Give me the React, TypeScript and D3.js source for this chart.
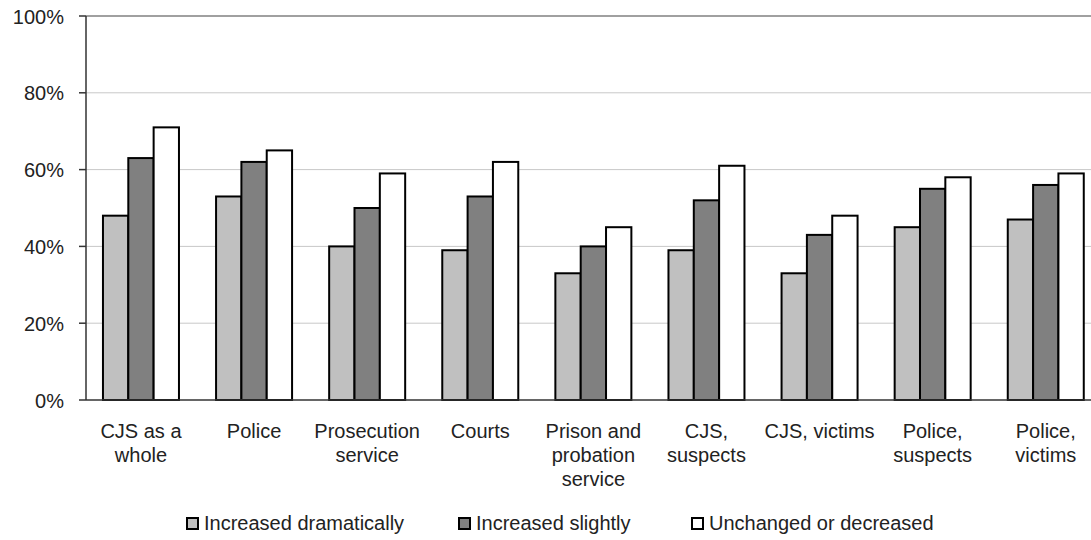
import React from "react";
import * as d3 from "d3";

const categories: string[][] = [
  ["CJS as a", "whole"],
  ["Police"],
  ["Prosecution", "service"],
  ["Courts"],
  ["Prison and", "probation", "service"],
  ["CJS,", "suspects"],
  ["CJS, victims"],
  ["Police,", "suspects"],
  ["Police,", "victims"],
];
const seriesNames = ["Increased dramatically", "Increased slightly", "Unchanged or decreased"];
const dramatically = [48, 53, 40, 39, 33, 39, 33, 45, 47];
const slightly = [63, 62, 50, 53, 40, 52, 43, 55, 56];
const unchanged = [71, 65, 59, 62, 45, 61, 48, 58, 59];
const yTicks = [0, 20, 40, 60, 80, 100];
const colors = ["#c0c0c0", "#808080", "#ffffff"];

export default function App() {
  const W = 1091, H = 540;
  const left = 86, top = 16, bottom = 400;
  const step = 113.1;
  const pin = 0.328, pout = 0.15;
  const rangeEnd = left + step * (categories.length - pin + 2 * pout);
  const x = d3.scaleBand<number>().domain(d3.range(categories.length)).range([left, rangeEnd]).paddingInner(pin).paddingOuter(pout);
  const xi = d3.scaleBand<number>().domain([0, 1, 2]).range([0, x.bandwidth()]);
  const y = d3.scaleLinear().domain([0, 100]).range([bottom, top]);
  const series = [dramatically, slightly, unchanged];
  const font = "'Liberation Sans', Arial, sans-serif";
  const fs = 20;
  const legendX = [187, 459, 692];
  return (
    <svg width={W} height={H} style={{ position: "absolute", left: 0, top: 0, background: "#fff" }} fontFamily={font}>
      {yTicks.filter(t => t > 0 && t < 100).map(t => (
        <line key={t} x1={left} x2={W} y1={y(t)} y2={y(t)} stroke="#c8c8c8" strokeWidth={1} />
      ))}
      <line x1={left} x2={W} y1={y(100)} y2={y(100)} stroke="#808080" strokeWidth={1.5} />
      {series.map((s, si) =>
        s.map((v, ci) => (
          <rect key={`${si}-${ci}`} x={(x(ci) as number) + (xi(si) as number)} y={y(v)} width={xi.bandwidth()} height={bottom - y(v)}
            fill={colors[si]} stroke="#000" strokeWidth={2} />
        ))
      )}
      <line x1={left} x2={left} y1={top} y2={bottom} stroke="#333" strokeWidth={1.5} />
      <line x1={left} x2={W} y1={bottom} y2={bottom} stroke="#333" strokeWidth={1.5} />
      {yTicks.map(t => (
        <g key={t}>
          <line x1={left - 7} x2={left} y1={y(t)} y2={y(t)} stroke="#333" strokeWidth={1.5} />
          <text x={64} y={y(t) + 7.5} textAnchor="end" fontSize={fs} fill="#222">{t}%</text>
        </g>
      ))}
      {categories.map((lines, ci) => {
        const cx = (x(ci) as number) + x.bandwidth() / 2;
        return (
          <text key={ci} textAnchor="middle" fontSize={fs} fill="#222">
            {lines.map((l, li) => (
              <tspan key={li} x={cx} y={438 + li * 24}>{l}</tspan>
            ))}
          </text>
        );
      })}
      {seriesNames.map((n, i) => (
        <g key={n}>
          <rect x={legendX[i]} y={518} width={11} height={11} fill={colors[i]} stroke="#000" strokeWidth={2} />
          <text x={legendX[i] + 17} y={530} fontSize={fs} fill="#222">{n}</text>
        </g>
      ))}
    </svg>
  );
}
